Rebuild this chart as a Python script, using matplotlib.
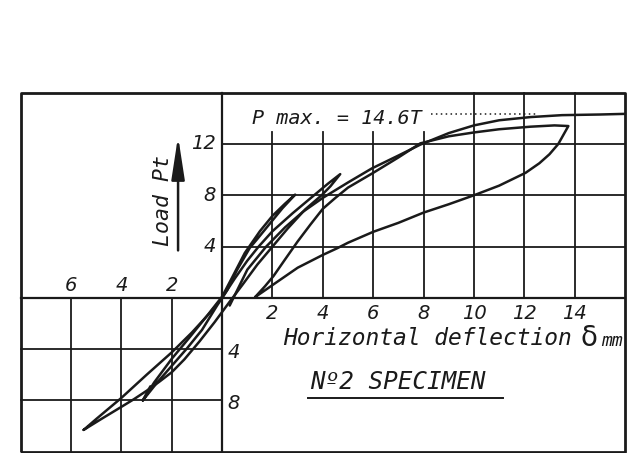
import matplotlib
matplotlib.use("Agg")
import matplotlib.pyplot as plt

# ---------------- data ----------------
# small cycle 1 (peaks ~ (2.9, 8.05) and (-3.15, -8.0))
c1_x = [-3.15, -2.7, -2.0, -1.3, -0.6, 0.0, 0.4, 0.9, 1.5, 2.0, 2.5, 2.9,
        2.4, 1.9, 1.4, 1.1, 0.6, 0.2, -0.2, -0.8, -1.4, -2.0, -2.6, -3.15]
c1_y = [-8.0, -6.6, -4.75, -3.1, -1.4, 0.1, 1.6, 3.5, 5.2, 6.4, 7.35, 8.05,
        7.0, 5.8, 4.6, 3.9, 2.2, 0.6, -0.6, -2.5, -3.95, -5.3, -6.65, -8.0]
hook_x = [-3.15, -2.85]
hook_y = [-8.0, -6.9]

# cycle 2 (peaks ~ (4.69, 9.65) and (-5.5, -10.3))
c2_x = [-5.5, -5.0, -4.0, -3.0, -2.0, -1.2, -0.5, 0.0, 0.5, 1.0, 1.45, 2.0, 2.8, 3.65, 4.2, 4.69,
        4.3, 3.95, 3.3, 2.6, 2.0, 1.4, 0.8, 0.3, -0.3, -0.9, -1.5, -2.0, -2.5, -3.0, -3.5, -4.0, -4.8, -5.5]
c2_y = [-10.3, -9.45, -7.8, -6.0, -4.25, -2.7, -1.2, 0.0, 1.5, 2.9, 4.0, 5.2, 6.6, 8.0, 8.9, 9.65,
        8.7, 8.0, 6.9, 5.4, 4.0, 2.6, 1.0, -0.3, -1.9, -3.4, -4.8, -5.8, -6.55, -7.25, -7.9, -8.5, -9.45, -10.3]

# upper envelope up to P max
env_x = [0.3, 0.6, 1.0, 1.75, 2.5, 3.2, 4.0, 5.0, 5.95, 7.0, 7.87, 9.0, 10.0, 11.0, 12.25, 13.5, 15.0, 16.0]
env_y = [-0.6, 0.6, 2.2, 4.0, 5.5, 6.7, 7.8, 9.0, 10.1, 11.1, 11.95, 12.85, 13.45, 13.85, 14.1, 14.25, 14.3, 14.35]

# big loop: reloading from (1.31, 0) to (13.75, 13.4) and unloading back
big_x = [1.31, 1.7, 2.04, 2.5, 3.0, 3.5, 4.0, 4.5, 5.0, 6.0, 7.0, 7.87, 9.0, 10.0, 11.0, 12.25, 13.2, 13.75,
         13.55, 13.35, 13.0, 12.6, 12.05, 11.0, 10.0, 9.0, 8.0, 7.0, 6.0, 5.0, 4.56, 4.0, 3.0, 2.04, 1.6, 1.31]
big_y = [0.06, 0.9, 1.7, 3.0, 4.4, 5.7, 6.95, 7.8, 8.6, 9.75, 10.95, 12.05, 12.6, 12.9, 13.15, 13.35, 13.45, 13.4,
         12.7, 12.0, 11.2, 10.5, 9.75, 8.75, 8.0, 7.3, 6.65, 5.85, 5.15, 4.3, 3.86, 3.35, 2.35, 1.05, 0.45, 0.06]

pmax_x = [8.3, 12.5]
pmax_y = [14.35, 14.35]

xtick_pos = [2, 4, 6, 8, 10, 12, 14]
xtick_neg = [-6, -4, -2]
ytick_pos = [4, 8, 12]
ytick_neg = [-4, -8]

# ---------------- figure ----------------
fig = plt.figure(figsize=(6.31, 4.53), dpi=100)
ax = fig.add_axes([0, 0, 1, 1])
ax.set_xlim(-8.822, 16.238)
ax.set_ylim(-12.101, 23.231)
ax.axis("off")

K = "#1a1a1a"
glw = 1.3
# frame
ax.plot([-8, 16, 16, -8, -8], [-12, -12, 16, 16, -12], color=K, lw=2.0, solid_capstyle="butt")
# axes
ax.plot([-8, 16], [0, 0], color=K, lw=1.6)
ax.plot([0, 0], [-12, 16], color=K, lw=1.6)
# lower-left grid
for v in xtick_neg:
    ax.plot([v, v], [-12, 0], color=K, lw=glw)
for v in ytick_neg:
    ax.plot([-8, 0], [v, v], color=K, lw=glw)
# upper-right grid
for v in xtick_pos:
    top = 16 if v >= 10 else 12.9
    ax.plot([v, v], [0, top], color=K, lw=glw)
for v in ytick_pos:
    ax.plot([0, 16], [v, v], color=K, lw=glw)

# curves
clw = 1.8
for xs, ys in [(c1_x, c1_y), (c2_x, c2_y), (env_x, env_y), (big_x, big_y), (hook_x, hook_y)]:
    ax.plot(xs, ys, color=K, lw=clw, solid_joinstyle="round", solid_capstyle="round")
ax.plot(pmax_x, pmax_y, color=K, lw=1.1, linestyle=(0, (1, 2.2)))

# tick labels
tf = dict(family="DejaVu Sans", style="italic", fontsize=14, color=K)
for v in xtick_pos:
    ax.text(v, -1.2, str(v), ha="center", va="center", **tf)
for v in xtick_neg:
    ax.text(v, 1.0, str(-v), ha="center", va="center", **tf)
for v in ytick_pos:
    ax.text(-0.25, v, str(v), ha="right", va="center", **tf)
for v in ytick_neg:
    ax.text(0.22, v - 0.25, str(-v), ha="left", va="center", **tf)

# labels (wide technical lettering -> monospaced oblique)
mf = dict(family="DejaVu Sans Mono", style="italic", color=K)
ax.text(2.43, -3.2, "Horizontal deflection", ha="left", va="center", fontsize=16.5, **mf)
ax.text(14.25, -3.15, "δ", ha="left", va="center", family="DejaVu Sans", fontsize=20, color=K)
ax.text(15.05, -3.35, "mm", ha="left", va="center", fontsize=13, **mf)
ax.text(3.5, -6.6, "Nº2 SPECIMEN", ha="left", va="center", fontsize=17.5, **mf)
ax.plot([3.42, 11.17], [-7.85, -7.85], color=K, lw=1.4)
ax.text(1.19, 13.95, "P max. = 14.6T", ha="left", va="center", fontsize=14.5, **mf)
ax.text(-2.35, 7.6, "Load Pt", rotation=90, ha="center", va="center", fontsize=15.5, **mf)
ax.annotate("", xy=(-1.75, 12.6), xytext=(-1.75, 3.7),
            arrowprops=dict(arrowstyle="-|>,head_length=2.6,head_width=0.4", color=K, lw=1.8,
                            shrinkA=0, shrinkB=0))

fig.savefig("out.png", dpi=100)
